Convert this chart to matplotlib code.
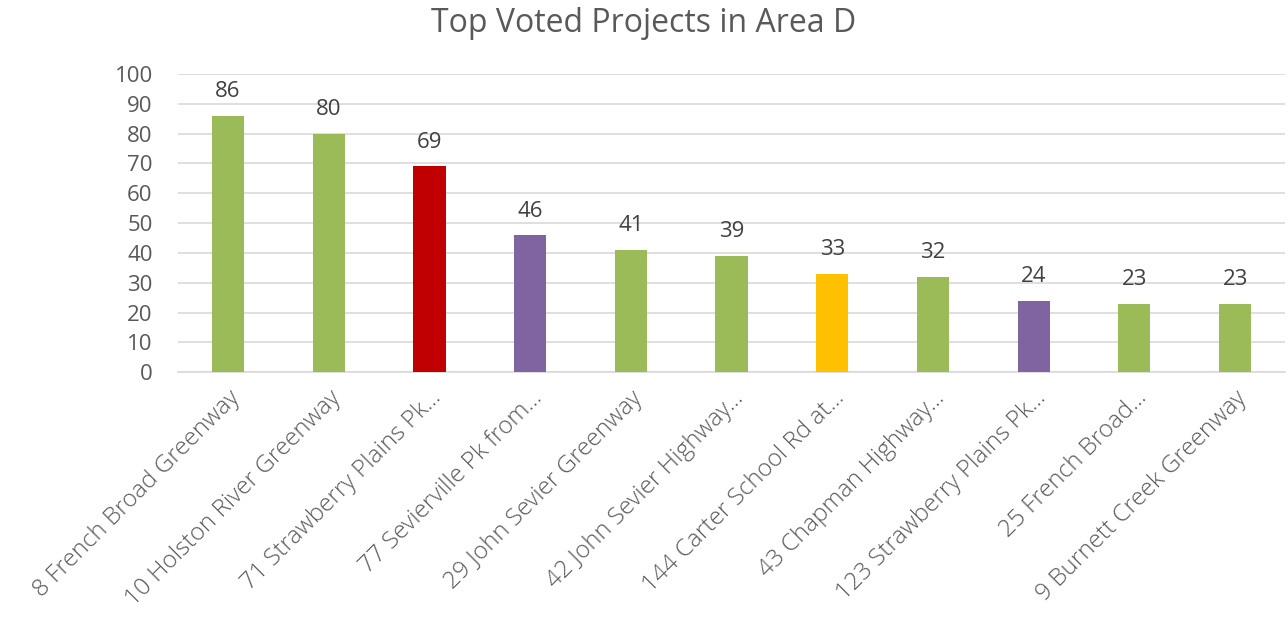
import matplotlib.pyplot as plt
import numpy as np

# Data
projects = ['8 French Broad Greenway', '10 Holston River Greenway', '71 Strawberry Plains Pk...',
            '77 Sevierville Pk from...', '29 John Sevier Greenway', '42 John Sevier Highway...',
            '144 Carter School Rd at...', '43 Chapman Highway...', '123 Strawberry Plains Pk...',
            '25 French Broad...', '9 Burnett Creek Greenway']
votes = [86, 80, 69, 46, 41, 39, 33, 32, 24, 23, 23]
colors = ['#9BBB59', '#9BBB59', '#C00000', '#8064A2', '#9BBB59', '#9BBB59',
          '#FFC000', '#9BBB59', '#8064A2', '#9BBB59', '#9BBB59']

plt.rcParams['font.family'] = ['Open Sans', 'DejaVu Sans']
text_color = '#595959'

fig = plt.figure(figsize=(12.88, 6.31), dpi=100)
ax = fig.add_axes([0.138, 0.41, 0.86, 0.473])

x = np.arange(len(projects))
ax.bar(x, votes, width=0.32, color=colors, zorder=3)

for xi, v in zip(x, votes):
    ax.text(xi, v + 4.5, str(v), ha='center', va='bottom', fontsize=16, color='#404040')

ax.set_xlim(-0.5, len(projects) - 0.5)
ax.set_ylim(0, 100)
ax.set_yticks(range(0, 101, 10))
ax.yaxis.grid(True, color='#D9D9D9', linewidth=1.2, zorder=0)
for s in ['top', 'right', 'left']:
    ax.spines[s].set_visible(False)
ax.spines['bottom'].set_color('#D9D9D9')
ax.spines['bottom'].set_linewidth(1.2)
ax.tick_params(axis='both', length=0)
ax.tick_params(axis='y', labelsize=16, labelcolor=text_color, pad=18)

ax.set_xticks(x)
ax.set_xticklabels(projects, rotation=45, ha='right', rotation_mode='anchor',
                   fontsize=17.5, color=text_color, fontweight='light')
ax.tick_params(axis='x', pad=10)

fig.text(0.5, 0.963, 'Top Voted Projects in Area D', ha='center', va='center',
         fontsize=23, color=text_color)

fig.savefig('out.png', dpi=100)
